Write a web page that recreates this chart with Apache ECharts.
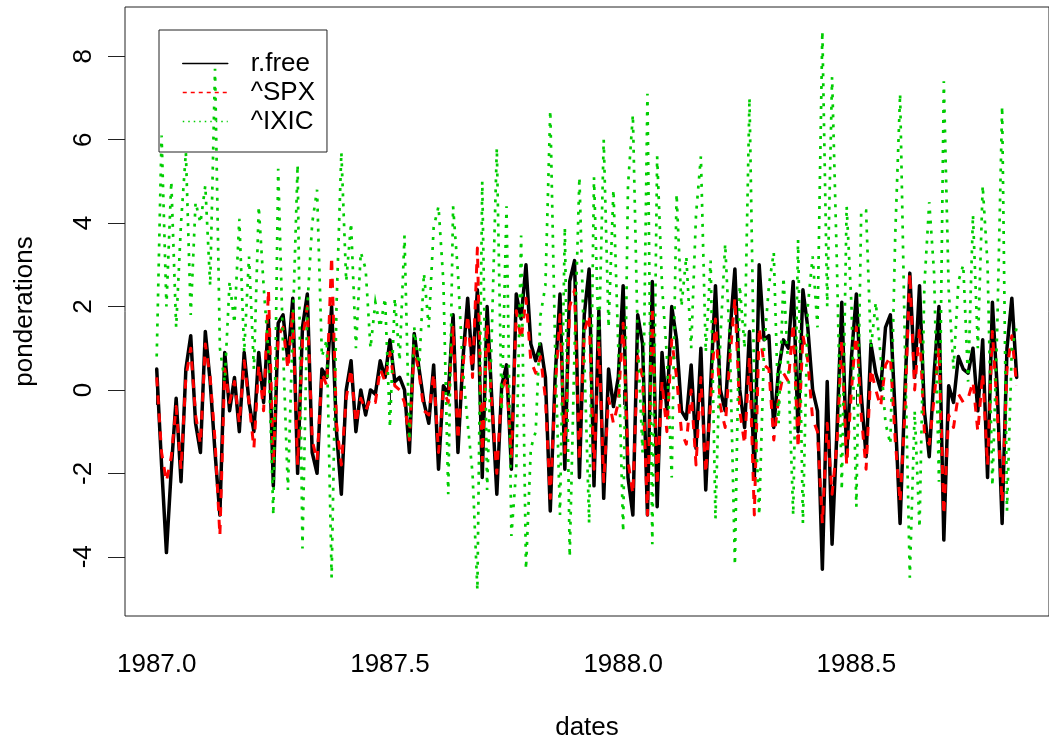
<!DOCTYPE html>
<html>
<head>
<meta charset="utf-8">
<script src="https://cdn.jsdelivr.net/npm/echarts@6/dist/echarts.min.js"></script>
<style>
  html, body { margin: 0; padding: 0; background: #fff; }
  #chart { width: 1049px; height: 746px; }
</style>
</head>
<body>
<div id="chart"></div>
<script>
// ---- data (regular time series starting 1987.0) ----
const seriesNames = ['r.free', '^SPX', '^IXIC'];
const tsStart = 1987.0;
const tsFreq = 96;
const xTicks = [1987.0, 1987.5, 1988.0, 1988.5];
const yTicks = [-4, -2, 0, 2, 4, 6, 8];

const rfree = [
  0.5, -1.8, -3.9, -1.9, -0.2, -2.2, 0.5, 1.3, -0.8, -1.5, 1.4, 0.2, -1.5, -3.0, 0.9, -0.5, 0.3, -1.0, 0.9, -0.3, -1.0, 0.9, -0.3, 1.7, -2.3, 1.6, 1.8, 0.7, 2.2, -2.0,
  1.5, 2.3, -1.5, -2.0, 0.5, 0.3, 2.0, -1.0, -2.5, 0.0, 0.7, -1.0, 0.0, -0.6, 0.0, -0.1, 0.7, 0.3, 1.2, 0.2, 0.3, 0.0, -1.5, 1.35, 0.5, -0.3, -0.8, 0.6, -1.9,
  0.1, -0.1, 1.8, -1.5, 0.7, 2.2, 0.5, 2.4, -2.1, 2.0, -0.3, -2.5, 0.1, 0.6, -1.9, 2.3, 1.7, 3.0, 1.1, 0.7, 1.1, 0.3, -2.9, 0.3, 2.3, -1.9, 2.6, 3.1, -2.1, 1.8,
  2.9, -2.3, 1.9, -2.6, 0.5, -0.4, 0.3, 2.5, -2.1, -3.0, 1.8, 1.1, -3.0, 2.6, -2.8, 0.9, -0.5, 2.0, 1.2, -0.5, -0.7, 0.6, -1.4, 1.0, -2.4, 0.1, 2.5, 0.0, -0.5,
  1.4, 2.9, 0.0, -0.9, 1.4, -2.1, 3.0, 1.2, 1.3, -0.9, 0.5, 1.2, 1.0, 2.6, -1.0, 2.4, 1.5, 0.0, -0.5, -4.3, 0.2, -3.7, -1.0, 2.1, -1.6, 0.8, 2.3, -0.1, -1.6, 1.1,
  0.4, 0.0, 1.5, 1.8, -0.6, -3.2, 0.0, 2.8, 0.3, 2.5, -0.5, -1.6, 0.4, 2.0, -3.6, 0.1, -0.3, 0.8, 0.5, 0.4, 1.0, -0.5, 1.2, -2.1, 2.1, 0.0, -3.2, 1.0, 2.2, 0.3
];
const spx = [
  0.3, -1.5, -2.2, -1.6, -0.4, -1.9, 0.3, 1.0, -0.6, -1.3, 1.1, 0.3, -1.2, -3.5, 0.5, -0.3, 0.2, -0.8, 0.7, -0.3, -1.4, 0.6, -0.5, 2.4, -1.8, 1.3, 1.5, 0.5, 1.9, -1.8,
  1.2, 2.0, -1.2, -1.7, 0.4, 0.1, 3.2, -0.8, -1.8, -0.2, 0.5, -0.8, -0.2, -0.5, -0.2, -0.3, 0.5, 0.2, 0.9, 0.1, 0.0, -0.3, -1.2, 1.0, 0.4, -0.5, -0.6, 0.4, -1.5,
  0.0, -0.3, 1.5, -1.2, 0.5, 1.8, 0.3, 3.4, -1.7, 1.6, -0.4, -2.0, 0.0, 0.3, -1.6, 1.9, 1.2, 2.2, 0.7, 0.4, 0.8, -0.2, -2.6, 0.0, 1.8, -1.5, 2.0, 2.4, -1.7, 1.4,
  1.8, -1.9, 1.2, -2.2, -0.2, -0.8, -0.3, 1.6, -1.7, -2.5, 0.8, 0.3, -3.0, 2.0, -2.3, 0.2, -1.0, 1.2, 0.3, -1.0, -1.3, 0.0, -1.8, 0.3, -2.0, -0.3, 1.7, -0.4, -0.9,
  0.8, 2.2, -0.5, -1.3, 0.8, -3.0, 1.5, 0.6, 0.5, -1.2, -0.2, 0.4, 0.2, 1.6, -1.4, 1.3, 0.7, -0.7, -1.0, -3.2, -0.8, -2.5, -1.3, 1.2, -1.8, 0.0, 1.5, -0.6, -1.9, 0.5,
  0.0, -0.4, 0.6, 0.8, -1.2, -2.7, -0.5, 2.8, 0.0, 1.5, -1.0, -1.3, -0.2, 1.0, -3.0, -0.6, -0.9, -0.1, -0.3, -0.2, 0.2, -1.0, 0.4, -1.8, 1.4, -0.5, -2.7, 0.5, 1.3, 0.1
];
const ixic = [
  0.8, 6.1, 2.0, 5.0, 1.5, 4.0, 5.7, 1.8, 4.5, 4.0, 4.9, 2.5, 7.7, 1.0, 0.2, 2.6, 1.6, 4.1, 0.9, 3.2, 0.5, 4.4, 2.5, 0.9, -3.0, 5.3, 1.0, -2.4, 1.5, 5.4,
  -3.8, 2.0, 4.0, 4.8, 0.8, 1.2, -4.5, 2.0, 5.7, 2.6, 4.0, 1.0, 3.3, 2.9, 1.0, 2.1, 1.5, 2.2, -0.9, 2.2, 0.7, 3.7, -1.2, 1.5, 0.5, 2.8, 1.5, 3.9, 4.4,
  2.6, -2.5, 4.4, 2.8, 0.5, -0.8, -2.0, -4.8, 5.0, -2.4, 1.5, 5.8, -0.5, 4.4, -3.5, -1.9, 3.7, -4.3, -1.4, -1.0, 1.8, 2.5, 6.7, 1.0, -3.0, 3.9, -4.0, 1.0, 5.1, 0.8,
  -3.2, 5.1, 1.0, 6.0, 1.5, 4.8, 1.0, -3.4, 4.9, 6.6, 1.2, -1.5, 7.1, -3.7, 5.6, 2.5, 0.8, -2.1, 4.7, 2.0, 3.2, 1.0, 4.2, 5.6, 0.9, 3.1, -3.1, 1.2, 3.5,
  1.0, -4.2, 2.5, 1.0, 7.0, 0.0, -3.0, 1.0, 2.5, 3.3, -0.8, 2.7, 0.5, -3.0, 3.6, -3.2, 2.0, 3.2, 1.5, 8.6, 2.0, 7.5, 3.0, -2.4, 4.4, 2.0, -2.8, 4.3, 4.3, 1.0,
  2.1, 0.8, -0.8, -1.3, 3.7, 7.1, 1.0, -4.5, -0.5, -3.3, 2.5, 4.5, 2.8, -2.2, 7.4, 2.4, 0.5, 2.6, 3.0, 0.2, 4.2, 1.0, 4.9, 3.0, -2.3, 1.5, 6.8, -2.9, 1.0, 1.5
];

// time index of the regular series (like R's time(ts))
const dates = rfree.map((_, i) => tsStart + i / tsFreq);
const pairs = vals => vals.map((v, i) => [dates[i], v]);

const FONT = 'Liberation Sans, Arial, Helvetica, sans-serif';
const chart = echarts.init(document.getElementById('chart'), null, { renderer: 'canvas' });

const option = {
  backgroundColor: '#ffffff',
  animation: false,
  grid: {
    left: 125, top: 7, right: -6, bottom: 125,
    show: true, borderColor: '#222', borderWidth: 1, backgroundColor: 'transparent'
  },
  legend: {
    orient: 'vertical',
    left: 159, top: 30,
    data: [
      { name: seriesNames[0], lineStyle: { width: 1.5, type: 'solid' } },
      { name: seriesNames[1], lineStyle: { width: 1.5, type: [4, 4] } },
      { name: seriesNames[2], lineStyle: { width: 1.5, type: [1.5, 4] } }
    ],
    itemWidth: 45, itemHeight: 14, itemGap: 0,
    padding: [19, 12, 16, 23],
    borderColor: '#222', borderWidth: 1, borderRadius: 0,
    textStyle: { fontSize: 26, lineHeight: 29, color: '#000', fontFamily: FONT, padding: [0, 0, 0, 18] },
    itemStyle: { opacity: 0 }
  },
  xAxis: {
    type: 'value',
    min: 1986.932, max: 1988.913,
    axisLine: { show: false },
    splitLine: { show: false },
    axisTick: { show: true, customValues: xTicks, length: 15, lineStyle: { color: '#222', width: 1 } },
    axisLabel: { customValues: xTicks, formatter: v => v.toFixed(1), fontSize: 26, lineHeight: 26, margin: 36, color: '#000', fontFamily: FONT },
    name: 'dates', nameLocation: 'middle', nameGap: 99,
    nameTextStyle: { fontSize: 26, color: '#000', fontFamily: FONT }
  },
  yAxis: {
    type: 'value',
    min: -5.42, max: 9.18,
    axisLine: { show: false },
    splitLine: { show: false },
    axisTick: { show: true, customValues: yTicks, length: 17, lineStyle: { color: '#222', width: 1 } },
    axisLabel: { customValues: yTicks, rotate: 90, fontSize: 26, lineHeight: 26, margin: 28, color: '#000', fontFamily: FONT },
    name: 'ponderations', nameLocation: 'middle', nameGap: 87,
    nameTextStyle: { fontSize: 26, color: '#000', fontFamily: FONT }
  },
  series: [
    {
      name: seriesNames[0], type: 'line', data: pairs(rfree),
      symbol: 'none', showSymbol: false, silent: true,
      color: '#000000',
      lineStyle: { color: '#000000', width: 3.5, type: 'solid', join: 'round', cap: 'round' }
    },
    {
      name: seriesNames[1], type: 'line', data: pairs(spx),
      symbol: 'none', showSymbol: false, silent: true,
      color: '#ff0000',
      lineStyle: { color: '#ff0000', width: 3, type: [9, 9], join: 'round', cap: 'butt' }
    },
    {
      name: seriesNames[2], type: 'line', data: pairs(ixic),
      symbol: 'none', showSymbol: false, silent: true,
      color: '#00cd00',
      lineStyle: { color: '#00cd00', width: 2.7, type: [3, 7], join: 'miter', cap: 'butt' }
    }
  ]
};
chart.setOption(option);
</script>
</body>
</html>
